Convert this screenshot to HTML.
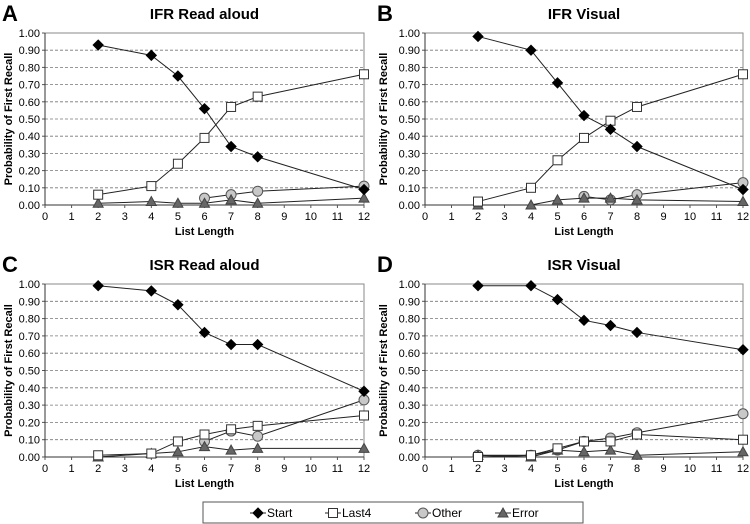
<!DOCTYPE html>
<html><head><meta charset="utf-8">
<style>
body{margin:0;background:#fff;font-family:"Liberation Sans",Arial,sans-serif;}
svg{display:block}
</style></head>
<body>
<svg id="chart" width="750" height="524" viewBox="0 0 750 524" xmlns="http://www.w3.org/2000/svg"></svg>
<script>
const xCats = [2,4,5,6,7,8,12];
const xTicks = [0,1,2,3,4,5,6,7,8,9,10,11,12];
const yTicks = [0,0.1,0.2,0.3,0.4,0.5,0.6,0.7,0.8,0.9,1.0];
const panelLetters = ["A","B","C","D"];
const panelTitles = ["IFR Read aloud","IFR Visual","ISR Read aloud","ISR Visual"];
const seriesNames = ["Start","Last4","Other","Error"];
// values per panel, null = missing
const startA = [0.93,0.87,0.75,0.56,0.34,0.28,0.09];
const last4A = [0.06,0.11,0.24,0.39,0.57,0.63,0.76];
const otherA = [null,null,null,0.04,0.06,0.08,0.11];
const errorA = [0.01,0.02,0.01,0.01,0.03,0.01,0.04];
const startB = [0.98,0.90,0.71,0.52,0.44,0.34,0.09];
const last4B = [0.02,0.10,0.26,0.39,0.49,0.57,0.76];
const otherB = [null,null,null,0.05,0.03,0.06,0.13];
const errorB = [0.00,0.00,0.03,0.04,0.04,0.03,0.02];
const startC = [0.99,0.96,0.88,0.72,0.65,0.65,0.38];
const last4C = [0.01,0.02,0.09,0.13,0.16,0.18,0.24];
const otherC = [null,null,null,0.09,0.15,0.12,0.33];
const errorC = [0.00,0.02,0.03,0.06,0.04,0.05,0.05];
const startD = [0.99,0.99,0.91,0.79,0.76,0.72,0.62];
const last4D = [0.00,0.01,0.05,0.09,0.09,0.13,0.10];
const otherD = [0.01,0.01,0.04,0.09,0.11,0.14,0.25];
const errorD = [0.01,0.00,0.04,0.03,0.04,0.01,0.03];

const panelData = [[startA,last4A,otherA,errorA],[startB,last4B,otherB,errorB],[startC,last4C,otherC,errorC],[startD,last4D,otherD,errorD]];
const layout = [{x0:45,x1:364,y0:33,y1:205},{x0:425,x1:743,y0:33,y1:205},{x0:45,x1:364,y0:284,y1:457},{x0:425,x1:743,y0:284,y1:457}];
const NS="http://www.w3.org/2000/svg";
const svg=document.getElementById('chart');
function mk(tag,attrs,parent){const e=document.createElementNS(NS,tag);for(const k in attrs)e.setAttribute(k,attrs[k]);(parent||svg).appendChild(e);return e;}
function marker(g,type,cx,cy){
  if(type===0) return mk('polygon',{points:`${cx},${cy-5} ${cx+5},${cy} ${cx},${cy+5} ${cx-5},${cy}`,fill:'#000',stroke:'#000'},g);
  if(type===1) return mk('rect',{x:cx-4.5,y:cy-4.5,width:9,height:9,fill:'#fff',stroke:'#333','stroke-width':1},g);
  if(type===2) return mk('circle',{cx:cx,cy:cy,r:5,fill:'#c8c8c8',stroke:'#555','stroke-width':1},g);
  return mk('polygon',{points:`${cx},${cy-5} ${cx+5},${cy+4} ${cx-5},${cy+4}`,fill:'#666',stroke:'#444'},g);
}
panelData.forEach((series,p)=>{
  const L=layout[p];
  const g=mk('g',{});
  
  
  const xs=v=>L.x0+(v-0)/(12-0)*(L.x1-L.x0);
  const ys=v=>L.y1-v*(L.y1-L.y0);
  const left=p%2===0?0:375;
  const lt=mk('text',{x:left+2,y:L.y0-12,'font-size':22,'font-weight':'bold',fill:'#000'},g);lt.textContent=panelLetters[p];
  
  const tt=mk('text',{x:(L.x0+L.x1)/2,y:L.y0-14,'font-size':15,'font-weight':'bold','text-anchor':'middle'},g);tt.textContent=panelTitles[p];
  
  yTicks.forEach(t=>{
    const y=ys(t);
    if(t>0&&t<1) mk('line',{x1:L.x0,x2:L.x1,y1:y,y2:y,stroke:'#777','stroke-width':0.8,'stroke-dasharray':'3,2'},g);
    mk('line',{x1:L.x0-3,x2:L.x0,y1:y,y2:y,stroke:'#555'},g);
    const tx=mk('text',{x:L.x0-5,y:y+4,'font-size':11,'text-anchor':'end'},g);tx.textContent=t.toFixed(2);
    
  });
  mk('rect',{x:L.x0,y:L.y0,width:L.x1-L.x0,height:L.y1-L.y0,fill:'none',stroke:'#888','stroke-width':1},g);
  mk('line',{x1:L.x0,x2:L.x1,y1:L.y1,y2:L.y1,stroke:'#333'},g);
  mk('line',{x1:L.x0,x2:L.x0,y1:L.y0,y2:L.y1,stroke:'#333'},g);
  xTicks.forEach(t=>{
    const x=xs(t);
    mk('line',{x1:x,x2:x,y1:L.y1,y2:L.y1+3,stroke:'#555'},g);
    const tx=mk('text',{x:x,y:L.y1+15,'font-size':11,'text-anchor':'middle'},g);tx.textContent=t;
    
  });
  const xt=mk('text',{x:(L.x0+L.x1)/2,y:L.y1+30,'font-size':11,'font-weight':'bold','text-anchor':'middle'},g);xt.textContent='List Length';
  
  const yc=(L.y0+L.y1)/2, yx=left+12;
  const yt=mk('text',{x:yx,y:yc,'font-size':11,'font-weight':'bold','text-anchor':'middle',transform:`rotate(-90 ${yx} ${yc})`},g);yt.textContent='Probability of First Recall';
  
  [2,3,1,0].forEach(s=>{
    const vals=series[s];
    const sg=mk('g',{},g);
    
    
    const pts=[];vals.forEach((v,i)=>{if(v!==null)pts.push([xs(xCats[i]),ys(v)]);});
    mk('polyline',{points:pts.map(q=>q.join(',')).join(' '),fill:'none',stroke:'#222','stroke-width':1},sg);
    pts.forEach(q=>{const m=marker(sg,s,q[0],q[1]);});
  });
});
// legend
const lg=mk('g',{});


mk('rect',{x:203,y:502,width:380,height:21,fill:'#fff',stroke:'#555'},lg);
const legX=[250,325,415,495];
seriesNames.forEach((n,i)=>{
  const eg=mk('g',{},lg);
  
  
  mk('line',{x1:legX[i],x2:legX[i]+16,y1:513,y2:513,stroke:'#222'},eg);
  marker(eg,i,legX[i]+8,513);
  const t=mk('text',{x:legX[i]+17,y:517,'font-size':12},eg);t.textContent=n;
});
</script>
</body></html>
